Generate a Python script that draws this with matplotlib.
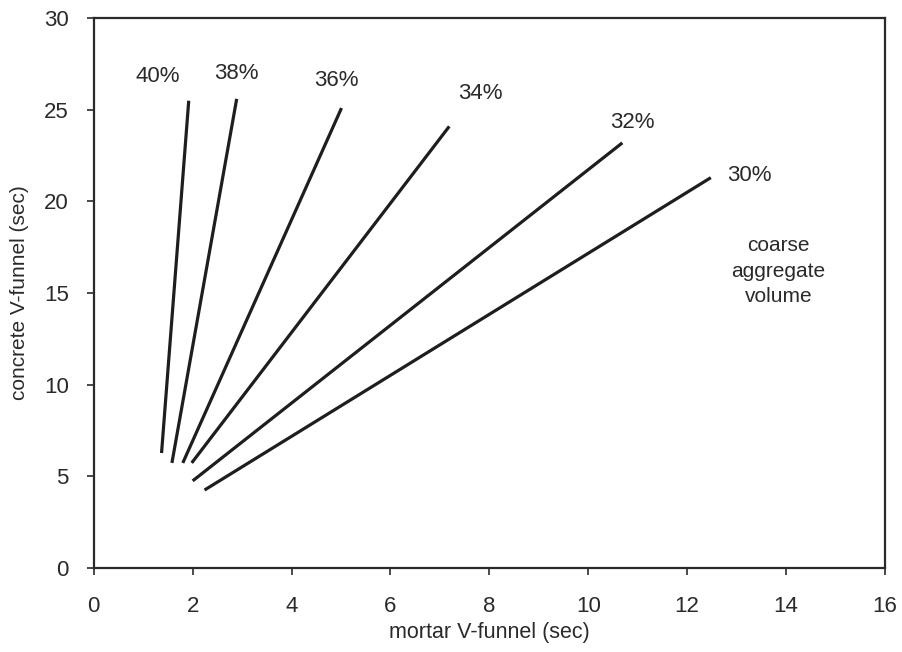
import matplotlib
matplotlib.use("Agg")
import matplotlib.pyplot as plt

plt.rcParams['font.family'] = ['Liberation Sans', 'DejaVu Sans']

# coarse aggregate volume lines: (x_start, y_start) -> (x_end, y_end)
labels = ["40%", "38%", "36%", "34%", "32%", "30%"]
x_start = [1.37, 1.58, 1.80, 1.98, 2.00, 2.24]
y_start = [6.27, 5.73, 5.73, 5.73, 4.75, 4.25]
x_end = [1.92, 2.89, 5.01, 7.19, 10.69, 12.48]
y_end = [25.5, 25.6, 25.1, 24.1, 23.2, 21.3]
label_x = [1.29, 2.89, 4.91, 7.82, 10.89, 13.25]
label_y = [26.8, 27.0, 26.6, 25.9, 24.3, 21.4]

fig = plt.figure(figsize=(9.02, 6.52), dpi=100)
ax = fig.add_axes([0.104, 0.129, 0.877, 0.843])

for i in range(len(labels)):
    ax.plot([x_start[i], x_end[i]], [y_start[i], y_end[i]],
            color="#1e1e1e", lw=2.3, solid_capstyle="butt")
    ax.text(label_x[i], label_y[i], labels[i], fontsize=16,
            ha="center", va="center", color="#2a2a2a")

ax.text(13.85, 16.2, "coarse\naggregate\nvolume", fontsize=15,
        ha="center", va="center", color="#2a2a2a", linespacing=1.45)

ax.set_xlim(0, 16)
ax.set_ylim(0, 30)
ax.set_xticks(range(0, 17, 2))
ax.set_yticks(range(0, 31, 5))
ax.tick_params(direction="out", length=5, width=1.2, labelsize=16,
               colors="#2a2a2a")
ax.tick_params(axis="x", pad=15)
ax.tick_params(axis="y", pad=13)
for s in ax.spines.values():
    s.set_linewidth(1.6)
    s.set_color("#2a2a2a")

ax.set_xlabel("mortar V-funnel (sec)", fontsize=15.5, color="#2a2a2a", labelpad=4)
ax.set_ylabel("concrete V-funnel (sec)", fontsize=15, color="#2a2a2a", labelpad=11)

fig.savefig("out.png", dpi=100)
